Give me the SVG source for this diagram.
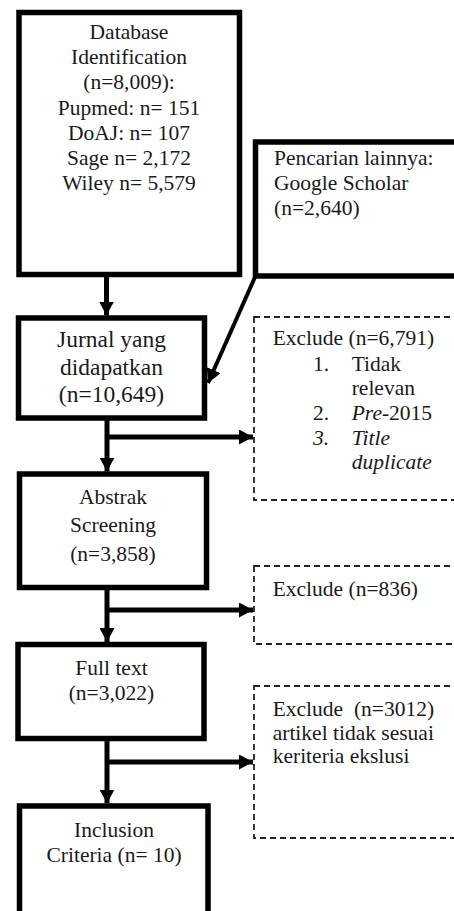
<svg xmlns="http://www.w3.org/2000/svg" width="454" height="911" viewBox="0 0 454 911">
<style>
.box{fill:#fff;stroke:#000;stroke-width:5.5}
.dash{fill:#fff;stroke:#222;stroke-width:1.8;stroke-dasharray:6 4}
.t{font-family:"Liberation Serif","Times New Roman",serif;font-size:21.5px;fill:#1a1a1a}
.c{text-anchor:middle}
.i{font-style:italic}
.ln{stroke:#000;stroke-width:5;fill:none}
</style>
<defs>
<marker id="ah" viewBox="0 0 14 15" refX="14" refY="7.5" markerWidth="14" markerHeight="15" markerUnits="userSpaceOnUse" orient="auto">
<path d="M0,0 L14,7.5 L0,15 z" fill="#000"/>
</marker>
</defs>
<rect width="454" height="911" fill="#fff"/>
<g id="connectors">
<line class="ln" x1="106.5" y1="276" x2="106.5" y2="315.5" marker-end="url(#ah)"/>
<line class="ln" x1="107" y1="420" x2="107" y2="471.5" marker-end="url(#ah)"/>
<line class="ln" x1="107" y1="437" x2="253" y2="437" marker-end="url(#ah)"/>
<line class="ln" x1="107" y1="589" x2="107" y2="642" marker-end="url(#ah)"/>
<line class="ln" x1="107" y1="610" x2="253" y2="610" marker-end="url(#ah)"/>
<line class="ln" x1="107" y1="740" x2="107" y2="803.5" marker-end="url(#ah)"/>
<line class="ln" x1="107" y1="762" x2="253" y2="762" marker-end="url(#ah)"/>
<line class="ln" style="stroke-width:4" x1="255.5" y1="276" x2="208" y2="383" marker-end="url(#ah)"/>
</g>
<g id="db">
<rect class="box" x="19" y="12.5" width="220.5" height="262"/>
<text class="t c" x="129" y="39">Database</text>
<text class="t c" x="129" y="64.2">Identification</text>
<text class="t c" x="129" y="89.4">(n=8,009):</text>
<text class="t c" x="129" y="114.6">Pupmed: n= 151</text>
<text class="t c" x="129" y="139.8">DoAJ: n= 107</text>
<text class="t c" x="129" y="165">Sage n= 2,172</text>
<text class="t c" x="129" y="190.2">Wiley n= 5,579</text>
</g>
<g id="gs">
<rect class="box" x="255.5" y="142" width="220" height="134"/>
<text class="t" x="274" y="165">Pencarian lainnya:</text>
<text class="t" x="274" y="190">Google Scholar</text>
<text class="t" x="274" y="215">(n=2,640)</text>
</g>
<g id="jurnal">
<rect class="box" x="18.5" y="318" width="186" height="100"/>
<text class="t c" style="font-size:23.5px" x="111.5" y="347">Jurnal yang</text>
<text class="t c" style="font-size:23.5px" x="111.5" y="375">didapatkan</text>
<text class="t c" style="font-size:23.5px" x="111.5" y="402">(n=10,649)</text>
</g>
<g id="abstrak">
<rect class="box" x="19.5" y="474" width="187" height="113.5"/>
<text class="t c" x="113" y="504">Abstrak</text>
<text class="t c" x="113" y="532">Screening</text>
<text class="t c" x="113" y="561">(n=3,858)</text>
</g>
<g id="fulltext">
<rect class="box" x="18" y="644.5" width="186" height="94"/>
<text class="t c" x="111.5" y="675">Full text</text>
<text class="t c" x="111.5" y="700">(n=3,022)</text>
</g>
<g id="inclusion">
<rect class="box" x="19.5" y="806" width="188.5" height="150"/>
<text class="t c" x="114" y="836.5">Inclusion</text>
<text class="t c" x="114" y="861.7">Criteria (n= 10)</text>
</g>
<g id="exclude1">
<rect class="dash" x="254" y="317" width="220" height="183"/>
<text class="t" x="272.7" y="345">Exclude (n=6,791)</text>
<text class="t" x="313" y="370.5">1.</text>
<text class="t" x="351.7" y="370.5">Tidak</text>
<text class="t" x="351.7" y="395">relevan</text>
<text class="t" x="313" y="420">2.</text>
<text class="t" x="351.7" y="420"><tspan class="i">Pre</tspan>-2015</text>
<text class="t i" x="313" y="445">3.</text>
<text class="t i" x="351.7" y="445">Title</text>
<text class="t i" x="351.7" y="469">duplicate</text>
</g>
<g id="exclude2">
<rect class="dash" x="254" y="566" width="220" height="78"/>
<text class="t" x="272.7" y="596">Exclude (n=836)</text>
</g>
<g id="exclude3">
<rect class="dash" x="254" y="686" width="220" height="152"/>
<text class="t" x="272.7" y="716" xml:space="preserve">Exclude  (n=3012)</text>
<text class="t" x="272.7" y="740">artikel tidak sesuai</text>
<text class="t" x="272.7" y="763">keriteria ekslusi</text>
</g>
</svg>
